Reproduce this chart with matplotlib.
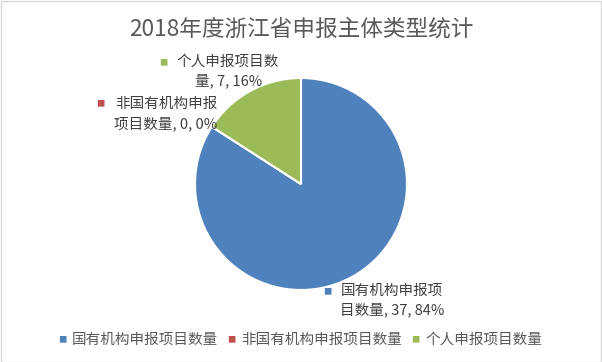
import matplotlib
matplotlib.use("Agg")
import matplotlib.pyplot as plt
from matplotlib.patches import Rectangle

plt.rcParams['font.family'] = ['Noto Sans CJK SC', 'DejaVu Sans']

title = "2018年度浙江省申报主体类型统计"
categories = ["国有机构申报项目数量", "非国有机构申报项目数量", "个人申报项目数量"]
values = [37, 0, 7]
percents = ["84%", "0%", "16%"]
colors = ["#4F81BD", "#C0504D", "#9BBB59"]

W, H = 602, 362
fig = plt.figure(figsize=(W / 100, H / 100), dpi=100)
fig.patch.set_facecolor("white")
fig.add_artist(Rectangle((0.5 / W, 0.5 / H), 1 - 1.5 / W, 1 - 1.5 / H, transform=fig.transFigure,
                         fill=False, edgecolor="#D9D9D9", linewidth=1))

cx, cy, r = 301, 184, 106
ax = fig.add_axes([(cx - r) / W, (H - cy - r) / H, 2 * r / W, 2 * r / H])
ax.pie(values, colors=colors, startangle=90, counterclock=False,
       wedgeprops=dict(edgecolor="white", linewidth=1.5))
ax.set_aspect("equal")
ax.set_xlim(-1, 1)
ax.set_ylim(-1, 1)
ax.axis("off")

fig.text(0.5, 1 - 29 / H, title, ha="center", va="center", fontsize=16.3, color="#595959")

txt = "#404040"
def px(x, y):
    return x / W, 1 - y / H

fs = 10.5
# data labels: (square x, square y, line1 x, line1 y, line1, line2 x, line2 y, line2)
labels = [
    (327, 292, 392, 291, "国有机构申报项", 392, 310, "目数量, %d, %s" % (values[0], percents[0])),
    (100, 104, 166, 104, "非国有机构申报", 166, 124, "项目数量, %d, %s" % (values[1], percents[1])),
    (163, 63, 228, 62, "个人申报项目数", 229, 81, "量, %d, %s" % (values[2], percents[2])),
]
for i, (sx, sy, x1, y1, l1, x2, y2, l2) in enumerate(labels):
    fig.text(*px(sx, sy), "■", color=colors[i], fontsize=6, ha="center", va="center")
    fig.text(*px(x1, y1), l1, color=txt, fontsize=fs, ha="center", va="center")
    fig.text(*px(x2, y2), l2, color=txt, fontsize=fs, ha="center", va="center")

# legend
leg_sq = [62, 231, 415]
for i, name in enumerate(categories):
    fig.text(*px(leg_sq[i], 340), "■", color=colors[i], fontsize=6, ha="center", va="center")
    fig.text(*px(leg_sq[i] + 10, 340), name, color="#595959", fontsize=fs, ha="left", va="center")

fig.savefig("out.png", dpi=100, facecolor="white")
